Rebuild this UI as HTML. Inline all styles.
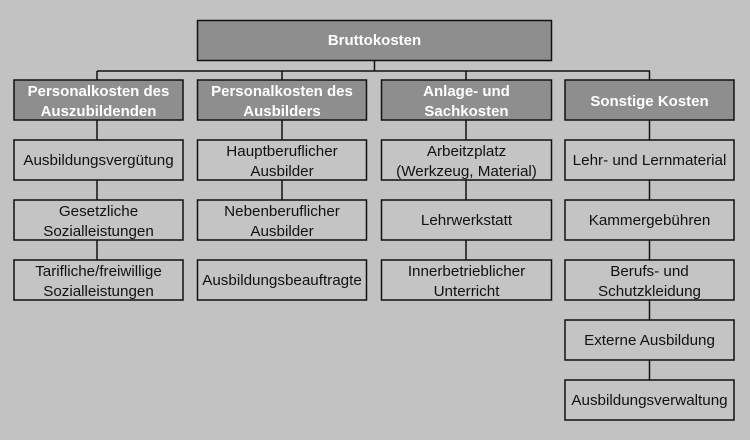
<!DOCTYPE html>
<html><head><meta charset="utf-8"><style>
html,body{margin:0;padding:0;background:#c2c2c2;}
svg{display:block;}
text{font-family:"Liberation Sans",Arial,sans-serif;font-size:15.2px;text-anchor:middle;fill:#111;}
.h{font-weight:bold;fill:#fff;font-size:15px;}
.d{fill:#8e8e8e;stroke:#111;stroke-width:1.5;}
.l{fill:#c4c4c4;stroke:#111;stroke-width:1.5;}
line{stroke:#111;stroke-width:1.5;}
</style></head><body>
<svg width="750" height="440" viewBox="0 0 750 440">
<rect width="750" height="440" fill="#c2c2c2"/>
<line x1="374.5" y1="60" x2="374.5" y2="71"/>
<line x1="97" y1="71" x2="650" y2="71"/>
<line x1="97" y1="71" x2="97" y2="300"/>
<line x1="282" y1="71" x2="282" y2="240"/>
<line x1="466" y1="71" x2="466" y2="300"/>
<line x1="649.5" y1="71" x2="649.5" y2="400"/>
<rect class="d" x="197.5" y="20.5" width="354" height="40"/>
<text class="h" x="374.5" y="45">Bruttokosten</text>

<rect class="d" x="14" y="80" width="169" height="40"/>
<text class="h" x="98.5" y="96">Personalkosten des</text><text class="h" x="98.5" y="116">Auszubildenden</text>
<rect class="d" x="197.5" y="80" width="169" height="40"/>
<text class="h" x="282" y="96">Personalkosten des</text><text class="h" x="282" y="116">Ausbilders</text>
<rect class="d" x="381.5" y="80" width="170" height="40"/>
<text class="h" x="466.5" y="96">Anlage- und</text><text class="h" x="466.5" y="116">Sachkosten</text>
<rect class="d" x="565" y="80" width="169" height="40"/>
<text class="h" x="649.5" y="106">Sonstige Kosten</text>

<rect class="l" x="14" y="140" width="169" height="40"/><text x="98.5" y="165">Ausbildungsvergütung</text>
<rect class="l" x="14" y="200" width="169" height="40"/><text x="98.5" y="216">Gesetzliche</text><text x="98.5" y="236">Sozialleistungen</text>
<rect class="l" x="14" y="260" width="169" height="40"/><text x="98.5" y="276">Tarifliche/freiwillige</text><text x="98.5" y="296">Sozialleistungen</text>

<rect class="l" x="197.5" y="140" width="169" height="40"/><text x="282" y="156">Hauptberuflicher</text><text x="282" y="176">Ausbilder</text>
<rect class="l" x="197.5" y="200" width="169" height="40"/><text x="282" y="216">Nebenberuflicher</text><text x="282" y="236">Ausbilder</text>
<rect class="l" x="197.5" y="260" width="169" height="40"/><text x="282" y="285">Ausbildungsbeauftragte</text>

<rect class="l" x="381.5" y="140" width="170" height="40"/><text x="466.5" y="156">Arbeitzplatz</text><text x="466.5" y="176">(Werkzeug, Material)</text>
<rect class="l" x="381.5" y="200" width="170" height="40"/><text x="466.5" y="225">Lehrwerkstatt</text>
<rect class="l" x="381.5" y="260" width="170" height="40"/><text x="466.5" y="276">Innerbetrieblicher</text><text x="466.5" y="296">Unterricht</text>

<rect class="l" x="565" y="140" width="169" height="40"/><text x="649.5" y="165">Lehr- und Lernmaterial</text>
<rect class="l" x="565" y="200" width="169" height="40"/><text x="649.5" y="225">Kammergebühren</text>
<rect class="l" x="565" y="260" width="169" height="40"/><text x="649.5" y="276">Berufs- und</text><text x="649.5" y="296">Schutzkleidung</text>
<rect class="l" x="565" y="320" width="169" height="40"/><text x="649.5" y="345">Externe Ausbildung</text>
<rect class="l" x="565" y="380" width="169" height="40"/><text x="649.5" y="405">Ausbildungsverwaltung</text>
</svg>
</body></html>
